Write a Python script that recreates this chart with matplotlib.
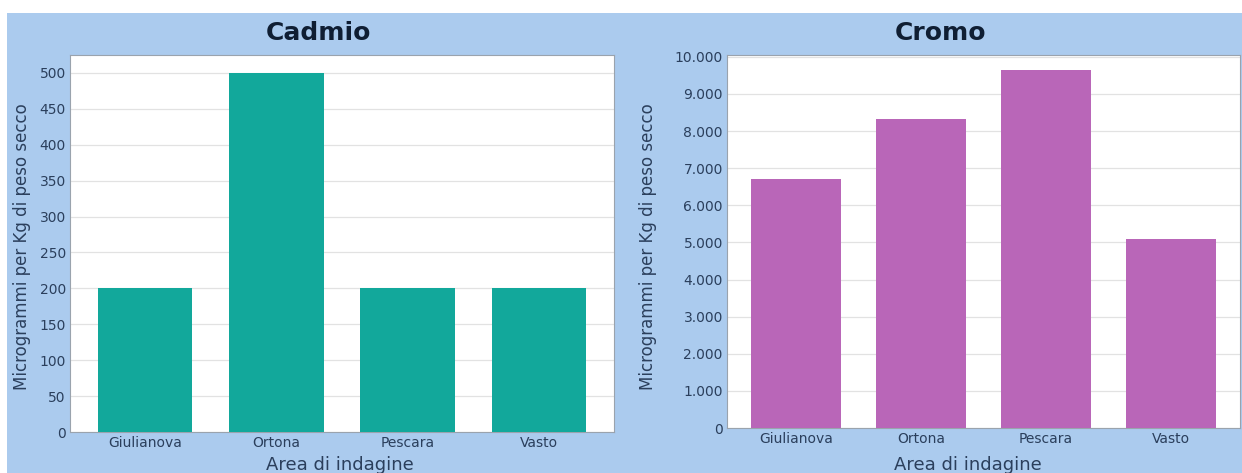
import matplotlib.pyplot as plt
from matplotlib.patches import Rectangle
from matplotlib.ticker import FuncFormatter

W, H = 1242, 473

aree = ["Giulianova", "Ortona", "Pescara", "Vasto"]
cadmio = [200, 500, 200, 200]
cromo = [6700, 8330, 9650, 5100]

cadmio_ticks = list(range(0, 501, 50))
cromo_ticks = list(range(0, 10001, 1000))

BLU = "#abcbee"
TEAL = "#12a89b"
VIOLA = "#b966b8"
TESTO = "#2b3f5c"


def formato_it(v, pos):
    # separatore delle migliaia con il punto
    return f"{int(v):,}".replace(",", ".")


def px(x0, y0, x1, y1):
    # rettangolo in pixel -> coordinate figura
    return [x0 / W, 1 - y1 / H, (x1 - x0) / W, (y1 - y0) / H]


fig = plt.figure(figsize=(W / 100, H / 100), dpi=100, facecolor="white")
fig.patches.append(Rectangle((7 / W, 0), 1 - 7 / W, 1 - 13 / H,
                             transform=fig.transFigure, facecolor=BLU,
                             edgecolor="none", zorder=-5))

pannelli = [
    (px(70, 55, 614, 432), "Cadmio", cadmio, TEAL, cadmio_ticks, 525, (-0.57, 3.57), 318, 340, 22),
    (px(727, 55, 1240, 428), "Cromo", cromo, VIOLA, cromo_ticks, 10050, (-0.55, 3.55), 940, 968, 648),
]

for rect, titolo, valori, colore, ticks, ymax, xlim, xt, xxl, xyl in pannelli:
    ax = fig.add_axes(rect)
    ax.set_facecolor("white")
    ax.bar(range(len(aree)), valori, width=0.72, color=colore, zorder=3)
    ax.set_xlim(*xlim)
    ax.set_ylim(0, ymax)
    ax.set_yticks(ticks)
    ax.yaxis.set_major_formatter(FuncFormatter(formato_it))
    ax.set_xticks(range(len(aree)))
    ax.set_xticklabels(aree)
    ax.tick_params(axis="both", length=0, labelsize=10, colors=TESTO, pad=3)
    ax.grid(axis="y", color="#e2e2e2", linewidth=0.9, zorder=0)
    for s in ax.spines.values():
        s.set_color("#9aa3ad")
        s.set_linewidth(0.8)
    fig.text(xt / W, 1 - 33 / H, titolo, ha="center", va="center",
             fontsize=18, fontweight="bold", color="#0f1e33")
    fig.text(xyl / W, 1 - 247 / H, "Microgrammi per Kg di peso secco",
             rotation=90, ha="center", va="center", fontsize=12, color=TESTO)
    fig.text(xxl / W, 1 - 465 / H, "Area di indagine", ha="center",
             va="center", fontsize=13, color=TESTO)

fig.savefig("out.png", dpi=100, facecolor="white")
